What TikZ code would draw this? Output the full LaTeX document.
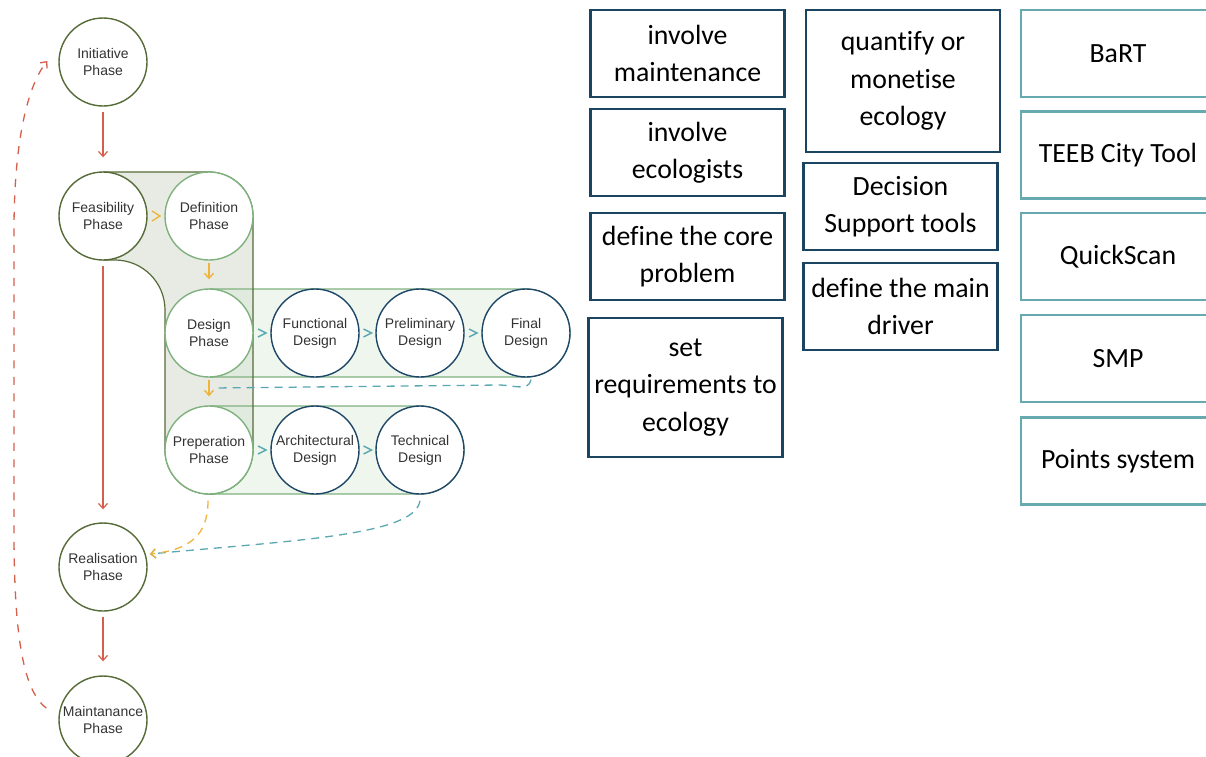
\documentclass[tikz,border=0pt]{standalone}
\usepackage{fontspec}
\setmainfont{Liberation Sans}
\newfontfamily\boxfont[Ligatures=NoCommon]{Carlito}
\usetikzlibrary{arrows.meta,calc}

\definecolor{olivec}{HTML}{566B38}
\definecolor{greenc}{HTML}{7FB27F}
\definecolor{navyc}{HTML}{1F4868}
\definecolor{redc}{HTML}{D2604D}
\definecolor{orangec}{HTML}{F0B33C}
\definecolor{tealc}{HTML}{5AA8B2}
\definecolor{boxnavy}{HTML}{1B4460}
\definecolor{boxteal}{HTML}{66A9AE}
\definecolor{txt}{HTML}{333333}
\definecolor{lfill}{HTML}{E8EBE4}
\definecolor{bfill}{HTML}{D9EAD9}

\begin{document}
\begin{tikzpicture}[x=1pt,y=1pt,
  phase/.style={circle, minimum size=88pt, inner sep=0pt, fill=white,
    draw=olivec, line width=1.4pt, align=center,
    font=\fontsize{14}{17}\selectfont, text=txt},
  gphase/.style={phase, draw=greenc},
  sphase/.style={phase, draw=navyc},
  tip/.style={-{Straight Barb[length=5pt,width=9pt]}},
  redarrow/.style={tip, draw=redc, line width=1.2pt},
  orarrow/.style={tip, draw=orangec, line width=1.4pt},
  chevo/.style={draw=orangec, line width=1.4pt},
  chevt/.style={draw=tealc, line width=1.4pt},
  tealdash/.style={draw=tealc, line width=1.3pt, dash pattern=on 8pt off 6pt},
  oradash/.style={draw=orangec, line width=1.3pt, dash pattern=on 8pt off 6pt},
  reddash/.style={draw=redc, line width=1.3pt, dash pattern=on 8pt off 8.5pt},
  card/.style={draw=boxnavy, line width=2.6pt, fill=white, align=center,
    minimum width=194pt, minimum height=87pt, inner sep=0pt,
    font=\boxfont\fontsize{27.8}{37.5}\selectfont, text=black},
  tcard/.style={card, draw=boxteal}
]
\useasboundingbox (0,0) rectangle (1206,-756);
\clip (0,0) rectangle (1206,-756);

% grouped phase bands
\fill[lfill]
  (103,-172) -- (209,-172) arc[start angle=90,end angle=0,radius=44]
  -- (253,-450) arc[start angle=0,end angle=-180,radius=44]
  -- (165,-310) arc[start angle=0,end angle=90,radius=50]
  -- (103,-260) arc[start angle=270,end angle=90,radius=44] -- cycle;
\fill[bfill, fill opacity=0.45]
  (209,-289) -- (526,-289) arc[start angle=90,end angle=-90,radius=44]
  -- (209,-377) arc[start angle=270,end angle=90,radius=44] -- cycle;
\fill[bfill, fill opacity=0.45]
  (209,-406) -- (420,-406) arc[start angle=90,end angle=-90,radius=44]
  -- (209,-494) arc[start angle=270,end angle=90,radius=44] -- cycle;
\draw[greenc, line width=1.2pt]
  (209,-289) -- (526,-289) arc[start angle=90,end angle=-90,radius=44]
  -- (209,-377);
\draw[greenc, line width=1.2pt]
  (209,-406) -- (420,-406) arc[start angle=90,end angle=-90,radius=44]
  -- (209,-494);
\draw[olivec, line width=1.2pt]
  (103,-172) -- (209,-172) arc[start angle=90,end angle=0,radius=44]
  -- (253,-450) arc[start angle=0,end angle=-180,radius=44]
  -- (165,-310) arc[start angle=0,end angle=90,radius=50]
  -- (103,-260);

% phases
\node[phase]  (ini) at (103,-62)  {Initiative\\Phase};
\node[phase]  (fea) at (103,-216) {Feasibility\\Phase};
\node[gphase] (def) at (209,-216) {Definition\\Phase};
\node[gphase] (des) at (209,-333) {Design\\Phase};
\node[sphase] (fun) at (315,-333) {Functional\\Design};
\node[sphase] (pre) at (420,-333) {Preliminary\\Design};
\node[sphase] (fin) at (526,-333) {Final\\Design};
\node[gphase] (prp) at (209,-450) {Preperation\\Phase};
\node[sphase] (arc) at (315,-450) {Architectural\\Design};
\node[sphase] (tec) at (420,-450) {Technical\\Design};
\node[phase]  (rea) at (103,-567) {Realisation\\Phase};
\node[phase]  (mai) at (103,-720) {Maintanance\\Phase};

% main sequence
\draw[redarrow, shorten <=5pt, shorten >=14pt] (ini.south) -- (fea.north);
\draw[redarrow, shorten <=5pt, shorten >=13pt] (fea.south) -- (rea.north);
\draw[redarrow, shorten <=5pt, shorten >=14pt] (rea.south) -- (mai.north);
\draw[reddash, tip] ([shift={(-12,12)}]mai.west)
  .. controls (22,-690) and (14,-630) .. (14,-530)
  -- (14,-230)
  .. controls (14,-140) and (28,-85) .. ([shift={(-11,1)}]ini.west);

% steps inside the bands
\draw[chevo] ($(fea.east)!0.5!(def.west)$) ++(-4,5) -- ++(8,-5) -- ++(-8,-5);
\draw[chevt] ($(des.east)!0.5!(fun.west)$) ++(-4,4) -- ++(8,-4) -- ++(-8,-4);
\draw[chevt] ($(fun.east)!0.5!(pre.west)$) ++(-4,4) -- ++(8,-4) -- ++(-8,-4);
\draw[chevt] ($(pre.east)!0.5!(fin.west)$) ++(-4,4) -- ++(8,-4) -- ++(-8,-4);
\draw[chevt] ($(prp.east)!0.5!(arc.west)$) ++(-4,4) -- ++(8,-4) -- ++(-8,-4);
\draw[chevt] ($(arc.east)!0.5!(tec.west)$) ++(-4,4) -- ++(8,-4) -- ++(-8,-4);
\draw[orarrow, shorten <=2pt, shorten >=9pt] (def.south) -- (des.north);
\draw[orarrow, shorten <=2pt, shorten >=9pt] (des.south) -- (prp.north);

% feedback and hand-over to realisation
\coordinate (fb) at (213,-388);
\draw[tealdash] ([shift={(5,-2)}]fin.south) to[out=-100,in=0] (500,-385) -- (fb);
\draw[tealdash, tip] ([shift={(0,-6)}]tec.south)
  .. controls (415,-535) and (300,-540) .. ([shift={(2,13)}]rea.east);
\draw[oradash, tip] ([shift={(-1,-6)}]prp.south)
  .. controls (208,-535) and (190,-550) .. ([shift={(2,13)}]rea.east);

% measures
\node[card] (c1) at (687.5,-53.5)  {involve\\maintenance};
\node[card] (c2) at (687.5,-152.5) {involve\\ecologists};
\node[card] (c3) at (687.5,-256.5) {define the core\\problem};
\node[card, minimum height=139pt] (c4) at (685.5,-387.5) {set\\requirements to\\ecology};
\node[card, minimum height=142pt] (c5) at (903,-81) {quantify or\\monetise\\ecology};
\node[card] (c6) at (900.5,-206.5) {Decision\\Support tools};
\node[card] (c7) at (900.5,-306.5) {define the main\\driver};

% tools
\node[tcard] (t1) at (1118,-53.5)  {BaRT};
\node[tcard] (t2) at (1118,-155)   {TEEB City Tool};
\node[tcard] (t3) at (1118,-256.5) {QuickScan};
\node[tcard] (t4) at (1118,-358.5) {SMP};
\node[tcard] (t5) at (1118,-461)   {Points system};
\end{tikzpicture}
\end{document}
